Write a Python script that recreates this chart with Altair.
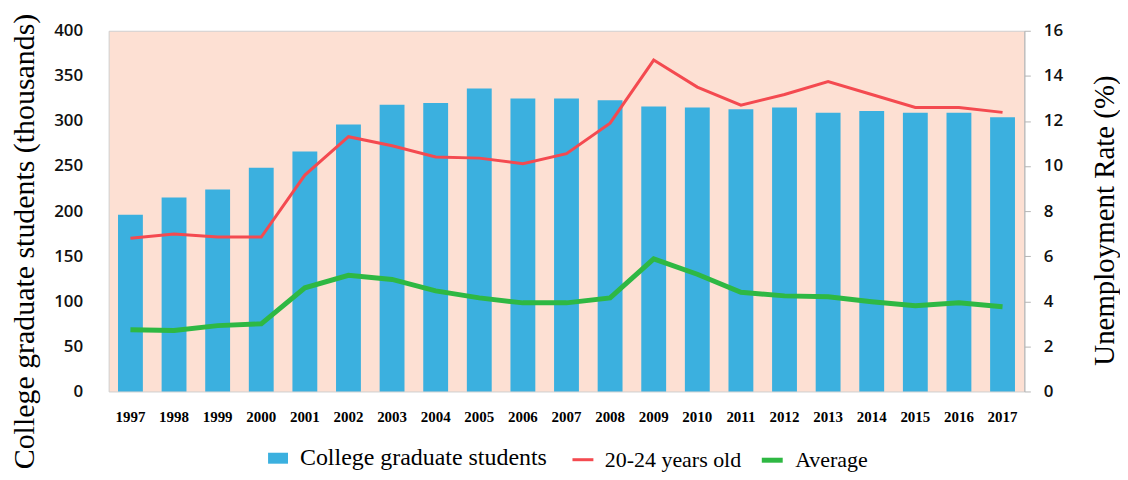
import altair as alt
import pandas as pd

years = [str(y) for y in range(1997, 2018)]
students = [196, 215, 224, 248, 266, 296, 318, 320, 336, 325, 325, 323, 316, 315, 313, 315, 309, 311, 309, 309, 304]
young = [6.8, 6.98, 6.85, 6.85, 9.6, 11.3, 10.9, 10.4, 10.35, 10.1, 10.55, 11.9, 14.7, 13.5, 12.7, 13.17, 13.75, 13.17, 12.6, 12.6, 12.38]
average = [2.74, 2.7, 2.92, 3.0, 4.6, 5.15, 4.97, 4.46, 4.15, 3.93, 3.93, 4.15, 5.88, 5.2, 4.4, 4.24, 4.2, 3.98, 3.8, 3.93, 3.76]

series_names = ["20-24 years old", "Average"]
bar_name = "College graduate students"

BLUE = "#3BB0DF"
BG = "#FDE0D3"
RED = "#F44A50"
GREEN = "#2EB843"
SERIF = "Liberation Serif, Times New Roman, serif"
SANS = "Open Sans, sans-serif"

bars_df = pd.DataFrame({"year": years, "value": students, "label": bar_name})
lines_df = pd.DataFrame({
    "year": years * 2,
    "rate": young + average,
    "series": [series_names[0]] * len(years) + [series_names[1]] * len(years),
})

x_enc = alt.X(
    "year:O",
    scale=alt.Scale(paddingInner=0.43, paddingOuter=0.215),
    axis=alt.Axis(title=None, labelAngle=0, labelFont=SERIF, labelFontWeight="bold",
                  labelFontSize=15, labelColor="#000", labelPadding=18,
                  ticks=False, domain=False),
)

bars = alt.Chart(bars_df).mark_bar(color=BLUE).encode(
    x=x_enc,
    y=alt.Y("value:Q", scale=alt.Scale(domain=[0, 400], nice=False),
            axis=alt.Axis(title="College graduate students (thousands)", values=list(range(0, 401, 50)),
                          titleFont=SERIF, titleFontSize=30, titleFontWeight="normal", titleColor="#000",
                          titleBaseline="middle", titleX=-84, titleY=211, titleAngle=270,
                          labelFont=SANS, labelFontSize=17, labelFontWeight=600, labelColor="#111",
                          labelPadding=26, ticks=False, domain=False, grid=False)),
    fill=alt.Fill("label:N", scale=alt.Scale(domain=[bar_name], range=[BLUE]),
                  legend=alt.Legend(title=None, orient="none", legendX=158, legendY=417,
                                    symbolType="M-1,-0.55H1V0.55H-1Z", symbolSize=400, symbolStrokeWidth=0,
                                    labelFont=SERIF, labelFontSize=24, labelColor="#000", labelLimit=0,
                                    labelOffset=10, direction="horizontal")),
)

line_legend = alt.Legend(title=None, orient="none", legendX=464, legendY=418,
                         symbolType="stroke", symbolSize=441,
                         labelFont=SERIF, labelFontSize=22, labelColor="#000", labelLimit=0,
                         labelOffset=10, columnPadding=10, direction="horizontal")

lines = alt.Chart(lines_df).mark_line().encode(
    x=x_enc,
    y=alt.Y("rate:Q", scale=alt.Scale(domain=[0, 16], nice=False),
            axis=alt.Axis(title="Unemployment Rate (%)", orient="right", values=list(range(0, 17, 2)),
                          titleFont=SERIF, titleFontSize=29, titleFontWeight="normal", titleColor="#000",
                          titleBaseline="middle", titleX=80, titleY=190, titleAngle=270,
                          labelFont=SANS, labelFontSize=17, labelFontWeight=600, labelColor="#111",
                          labelPadding=13, ticks=True, tickSize=6, tickColor="#b5b5b5",
                          domain=True, domainColor="#b5b5b5", grid=False)),
    stroke=alt.Stroke("series:N", scale=alt.Scale(domain=series_names, range=[RED, GREEN]),
                      legend=line_legend),
    strokeWidth=alt.StrokeWidth("series:N", scale=alt.Scale(domain=series_names, range=[3, 5]),
                                legend=line_legend),
)

chart = alt.layer(bars, lines).resolve_scale(y="independent").properties(
    width=919, height=362,
    autosize=alt.AutoSizeParams(type="none"),
    padding={"left": 101, "top": 22, "right": 96, "bottom": 80},
).configure_view(fill=BG, stroke="#cfcfcf", strokeWidth=1)

chart.save("out.html", embed_options={"renderer": "svg", "actions": False})
